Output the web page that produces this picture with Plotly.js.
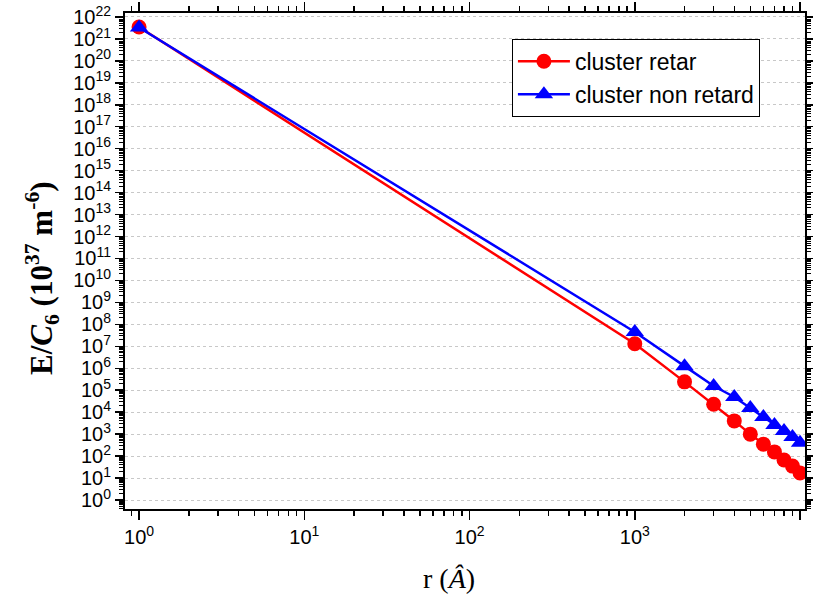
<!DOCTYPE html>
<html><head><meta charset="utf-8">
<script src="https://cdn.plot.ly/plotly-3.0.1.min.js"></script>
<style>html,body{margin:0;padding:0;background:#fff}</style>
</head><body><div id="chart" style="width:813px;height:603px"></div>
<script>
// Data
var rRetar = [1, 1000, 2000, 3000, 4000, 5000, 6000, 7000, 8000, 9000, 10000];
var eRetar = [3.5e21, 1.3e7, 2.4e5, 2.3e4, 4.0e3, 1.0e3, 3.5e2, 1.55e2, 6.6e1, 3.5e1, 1.7e1];
var rNonRetard = [1, 1000, 2000, 3000, 4000, 5000, 6000, 7000, 8000, 9000, 10000];
var eNonRetard = [3.3e21, 4.5e7, 1.25e6, 1.55e5, 4.9e4, 1.55e4, 6.0e3, 2.6e3, 1.4e3, 7.4e2, 4.0e2];

// Tick definitions
var xMajorExp = [0, 1, 2, 3, 4];
var yMajorExp = [];
for (var i = 0; i <= 22; i++) yMajorExp.push(i);

function majorVals(exps){ return exps.map(function(e){ return Math.pow(10, e); }); }
function majorText(exps){ return exps.map(function(e){ return '10<sup>' + e + '</sup>'; }); }
function minorVals(lo, hi){
  var v = [];
  for (var e = lo; e <= hi; e++) for (var d = 2; d <= 9; d++) v.push(d * Math.pow(10, e));
  return v;
}

var tickFont = {family: 'Liberation Sans, Arial, sans-serif', size: 20, color: '#000'};

var traces = [
  {x: rRetar, y: eRetar, name: 'cluster retar', mode: 'lines+markers', type: 'scatter',
   line: {color: '#ff0000', width: 2.5}, marker: {symbol: 'circle', size: 15, color: '#ff0000'}},
  {x: rNonRetard, y: eNonRetard, name: 'cluster non retard', mode: 'lines+markers', type: 'scatter',
   line: {color: '#0000ff', width: 2.5}, marker: {symbol: 'triangle-up', size: 16, color: '#0000ff'}}
];

var layout = {
  width: 813, height: 603,
  margin: {l: 125, r: 8, t: 13, b: 94},
  paper_bgcolor: '#fff', plot_bgcolor: '#fff',
  showlegend: true,
  legend: {x: 0.569, y: 0.948, xanchor: 'left', yanchor: 'top',
    bordercolor: '#000', borderwidth: 1, bgcolor: '#fff',
    font: {family: 'Liberation Sans, Arial, sans-serif', size: 23, color: '#000'},
    itemwidth: 52, tracegroupgap: 0},
  annotations: [
    {text: 'r (<i>Â</i>)', xref: 'paper', yref: 'paper', x: (449 - 125) / 680, y: -0.105,
     xanchor: 'center', yanchor: 'top', showarrow: false,
     font: {family: 'Liberation Serif, Times New Roman, serif', size: 28, color: '#000'}},
    {text: '<b>E/<i>C</i><sub>6</sub> (10<sup>37</sup> m<sup>-6</sup>)</b>', xref: 'paper', yref: 'paper',
     x: (42 - 125) / 680, y: (509 - 278) / 496, xanchor: 'center', yanchor: 'middle', textangle: -90, showarrow: false,
     font: {family: 'Liberation Serif, Times New Roman, serif', size: 31, color: '#000'}}
  ],
  xaxis: {type: 'log', range: [-0.085, 4.03],
    tickmode: 'array', tickvals: majorVals(xMajorExp), ticktext: majorText(xMajorExp),
    ticks: 'outside', ticklen: 9, tickwidth: 1.5, tickcolor: '#000',
    minor: {tickmode: 'array', tickvals: minorVals(-1, 3), ticks: 'outside', ticklen: 5, tickwidth: 1.5, tickcolor: '#000', showgrid: false},
    showline: true, linecolor: '#000', linewidth: 2, mirror: 'ticks',
    showgrid: false, zeroline: false, tickfont: tickFont},
  yaxis: {type: 'log', range: [-0.41, 22.18],
    tickmode: 'array', tickvals: majorVals(yMajorExp), ticktext: majorText(yMajorExp),
    ticks: 'outside', ticklen: 8, tickwidth: 1.5, tickcolor: '#000',
    minor: {tickmode: 'array', tickvals: minorVals(-1, 21), ticks: 'outside', ticklen: 4, tickwidth: 1, tickcolor: '#000', showgrid: false},
    showline: true, linecolor: '#000', linewidth: 2, mirror: 'ticks',
    showgrid: true, gridcolor: '#c8c8c8', griddash: 'dot', gridwidth: 1, zeroline: false, tickfont: tickFont}
};

Plotly.newPlot('chart', traces, layout, {displayModeBar: false, staticPlot: true});
</script></body></html>
